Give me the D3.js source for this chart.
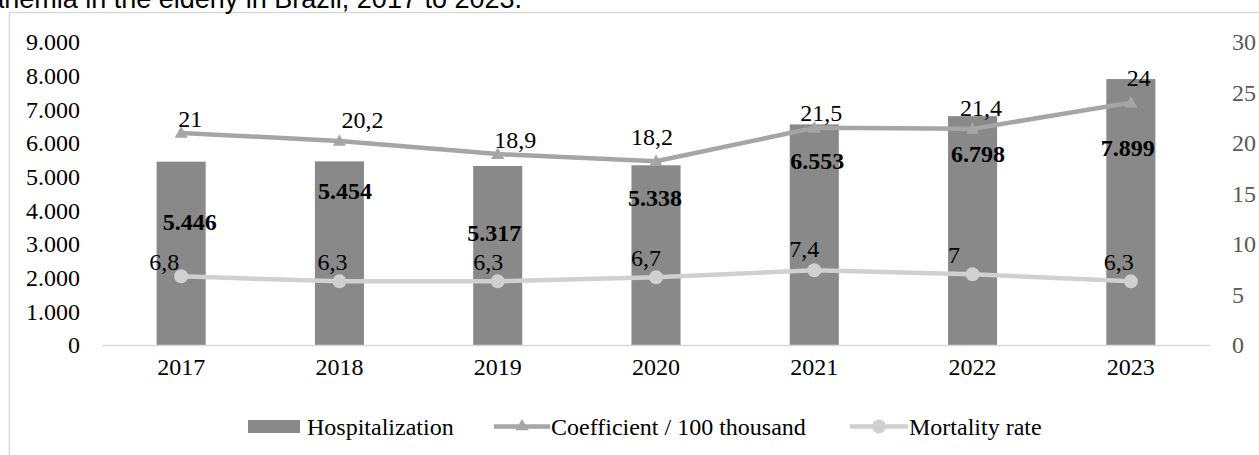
<!DOCTYPE html>
<html>
<head>
<meta charset="utf-8">
<script src="https://cdn.jsdelivr.net/npm/d3@7"></script>
<style>
  html, body { margin: 0; padding: 0; background: #fff; overflow: hidden; }
  svg { display: block; }
</style>
</head>
<body>
<svg id="chart" width="1259" height="455"></svg>
<script>
// ---- data ----
const years = ["2017", "2018", "2019", "2020", "2021", "2022", "2023"];
const hospitalization = [5446, 5454, 5317, 5338, 6553, 6798, 7899];
const coefficient = [21, 20.2, 18.9, 18.2, 21.5, 21.4, 24];
const mortality = [6.8, 6.3, 6.3, 6.7, 7.4, 7, 6.3];
const leftTicks = [0, 1000, 2000, 3000, 4000, 5000, 6000, 7000, 8000, 9000];
const rightTicks = [0, 5, 10, 15, 20, 25, 30];
const titleText = "anemia in the elderly in Brazil, 2017 to 2023.";
const legendLabels = ["Hospitalization", "Coefficient / 100 thousand", "Mortality rate"];

// ---- label placement (layout only) ----
const barLabelOffset = [[8.5, 60], [5.5, 29], [-3.5, 67], [-1, 32], [3, 36], [5.5, 37], [-3, 69]];
const coefLabelOffset = [[9, -14], [23, -21], [17.5, -15], [-4, -25], [7, -15], [8.5, -21], [8, -25]];
const mortLabelOffset = [[-17, -14.5], [-7, -20], [-9.5, -20], [-10, -20], [-10, -22], [-18.5, -20], [-12, -20]];

const serif = "'Liberation Serif', 'Times New Roman', serif";
const sans = "'Liberation Sans', Arial, sans-serif";
const barColor = "#898989", coefColor = "#a5a5a5", mortColor = "#d0d0d0";
const fs = 24;

const loc = d3.formatLocale({decimal: ",", thousands: ".", grouping: [3], currency: ["", ""]});
const fmtInt = loc.format(",d");
const fmtDec = v => String(v).replace(".", ",");

const svg = d3.select("#chart");

// frame
svg.append("rect").attr("x", 9.5).attr("y", 12.5).attr("width", 1262).attr("height", 460)
  .attr("fill", "none").attr("stroke", "#d9d9d9").attr("stroke-width", 1.5);

// title
svg.append("text").attr("x", 522).attr("y", 8).attr("text-anchor", "end")
  .attr("font-family", sans).attr("font-size", 27).attr("fill", "#000").text(titleText);

const x = d3.scaleBand().domain(years).range([102, 1210]).paddingInner(0.69).paddingOuter(0.345);
const yL = d3.scaleLinear().domain([0, 9000]).range([345, 42]);
const yR = d3.scaleLinear().domain([0, 30]).range([345, 42]);
const cx = d => x(d) + x.bandwidth() / 2;

// left axis
const axL = svg.append("g").attr("transform", "translate(82,0)")
  .call(d3.axisLeft(yL).tickValues(leftTicks).tickFormat(d => d === 0 ? "0" : fmtInt(d)).tickSize(0).tickPadding(2));
axL.select(".domain").remove();
axL.selectAll("text").attr("font-family", serif).attr("font-size", fs).attr("fill", "#000");

// right axis
const axR = svg.append("g").attr("transform", "translate(1230,0)")
  .call(d3.axisRight(yR).tickValues(rightTicks).tickSize(0).tickPadding(2));
axR.select(".domain").remove();
axR.selectAll("text").attr("font-family", serif).attr("font-size", fs).attr("fill", "#595959");

// bars
svg.append("g").selectAll("rect").data(years).join("rect")
  .attr("x", d => x(d)).attr("width", x.bandwidth())
  .attr("y", (d, i) => yL(hospitalization[i]))
  .attr("height", (d, i) => yL(0) - yL(hospitalization[i]))
  .attr("fill", barColor);

// x axis
const axX = svg.append("g").attr("transform", "translate(0,345)")
  .call(d3.axisBottom(x).tickSize(0).tickPadding(13));
axX.select(".domain").attr("stroke", "#d9d9d9").attr("stroke-width", 1.5);
axX.selectAll("text").attr("font-family", serif).attr("font-size", fs).attr("fill", "#000");

// lines
const coefLine = d3.line().x((d, i) => cx(years[i])).y(d => yR(d));
svg.append("path").datum(coefficient).attr("d", coefLine)
  .attr("fill", "none").attr("stroke", coefColor).attr("stroke-width", 4.5).attr("stroke-linejoin", "round");
const tri = d3.symbol().type(d3.symbolTriangle).size(75);
svg.append("g").selectAll("path").data(coefficient).join("path")
  .attr("d", tri).attr("transform", (d, i) => `translate(${cx(years[i])},${yR(d) + 1})`)
  .attr("fill", coefColor);

const mortLine = d3.line().x((d, i) => cx(years[i])).y(d => yR(d));
svg.append("path").datum(mortality).attr("d", mortLine)
  .attr("fill", "none").attr("stroke", mortColor).attr("stroke-width", 4.5).attr("stroke-linejoin", "round");
svg.append("g").selectAll("circle").data(mortality).join("circle")
  .attr("cx", (d, i) => cx(years[i])).attr("cy", d => yR(d)).attr("r", 7)
  .attr("fill", mortColor);

// labels
svg.append("g").selectAll("text").data(hospitalization).join("text")
  .attr("x", (d, i) => cx(years[i]) + barLabelOffset[i][0])
  .attr("y", (d, i) => yL(d) + barLabelOffset[i][1])
  .attr("dy", "0.35em").attr("text-anchor", "middle")
  .attr("font-family", serif).attr("font-size", fs).attr("font-weight", "bold").attr("fill", "#000")
  .text(d => fmtInt(d));

svg.append("g").selectAll("text").data(coefficient).join("text")
  .attr("x", (d, i) => cx(years[i]) + coefLabelOffset[i][0])
  .attr("y", (d, i) => yR(d) + coefLabelOffset[i][1])
  .attr("dy", "0.35em").attr("text-anchor", "middle")
  .attr("font-family", serif).attr("font-size", fs).attr("fill", "#000")
  .text(d => fmtDec(d));

svg.append("g").selectAll("text").data(mortality).join("text")
  .attr("x", (d, i) => cx(years[i]) + mortLabelOffset[i][0])
  .attr("y", (d, i) => yR(d) + mortLabelOffset[i][1])
  .attr("dy", "0.35em").attr("text-anchor", "middle")
  .attr("font-family", serif).attr("font-size", fs).attr("fill", "#000")
  .text(d => fmtDec(d));

// legend
const ly = 426.5;
const lg = svg.append("g");
lg.append("rect").attr("x", 248).attr("y", ly - 6.5).attr("width", 52).attr("height", 13).attr("fill", barColor);
lg.append("text").attr("x", 307).attr("y", ly).attr("dy", "0.35em")
  .attr("font-family", serif).attr("font-size", fs).text(legendLabels[0]);

lg.append("line").attr("x1", 494).attr("x2", 550).attr("y1", ly).attr("y2", ly)
  .attr("stroke", coefColor).attr("stroke-width", 4.5);
lg.append("path").attr("d", tri).attr("transform", `translate(522,${ly})`).attr("fill", coefColor);
lg.append("text").attr("x", 551).attr("y", ly).attr("dy", "0.35em")
  .attr("font-family", serif).attr("font-size", fs).text(legendLabels[1]);

lg.append("line").attr("x1", 850).attr("x2", 908).attr("y1", ly).attr("y2", ly)
  .attr("stroke", mortColor).attr("stroke-width", 4.5);
lg.append("circle").attr("cx", 879).attr("cy", ly).attr("r", 7).attr("fill", mortColor);
lg.append("text").attr("x", 909).attr("y", ly).attr("dy", "0.35em")
  .attr("font-family", serif).attr("font-size", fs).text(legendLabels[2]);
</script>
</body>
</html>
